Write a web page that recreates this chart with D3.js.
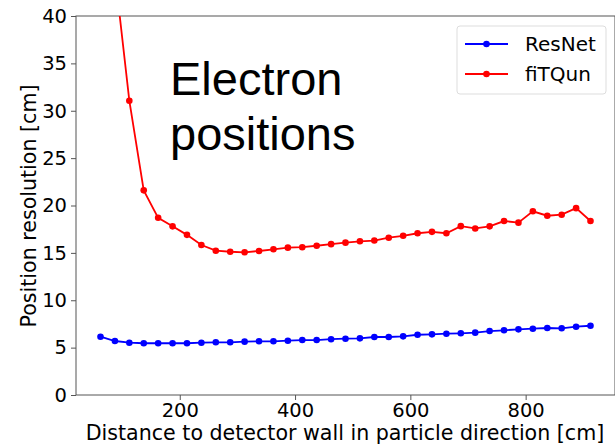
<!DOCTYPE html>
<html>
<head>
<meta charset="utf-8">
<script src="https://cdn.jsdelivr.net/npm/d3@7"></script>
<style>
  body { margin: 0; background: #fff; }
  text { font-family: "DejaVu Sans", sans-serif; fill: #000; }
</style>
</head>
<body>
<svg id="chart" width="615" height="446"></svg>
<script>
// distance bins [cm]
var distances = d3.range(35).map(function(i) { return 62.5 + 25 * i; });

// position resolution [cm]
var resnet = [6.15, 5.70, 5.52, 5.46, 5.46, 5.46, 5.46, 5.52, 5.56, 5.56,
              5.63, 5.67, 5.67, 5.73, 5.80, 5.80, 5.89, 5.94, 5.98, 6.12,
              6.12, 6.19, 6.36, 6.40, 6.47, 6.51, 6.58, 6.75, 6.83, 6.93,
              7.00, 7.07, 7.04, 7.21, 7.31];
var fitqun = [70.0, 44.5, 31.06, 21.6, 18.7, 17.8, 16.9, 15.83, 15.23, 15.12,
              15.06, 15.2, 15.38, 15.55, 15.6, 15.75, 15.92, 16.08, 16.22, 16.3,
              16.6, 16.8, 17.07, 17.22, 17.07, 17.82, 17.58, 17.8, 18.36, 18.19,
              19.39, 18.92, 19.03, 19.72, 18.36];

var xTicks = [200, 400, 600, 800];
var yTicks = [0, 5, 10, 15, 20, 25, 30, 35, 40];

var series = [
  {name: 'ResNet', color: 'blue', values: resnet},
  {name: 'fiTQun', color: 'red', values: fitqun}
];

function drawChart() {
  var svg = d3.select('#chart');
  var pLeft = 76, pRight = 615, pTop = 16, pBottom = 395;

  var x = d3.scaleLinear().domain([20, 955]).range([pLeft, pRight]);
  var y = d3.scaleLinear().domain([0, 40]).range([pBottom, pTop]);

  svg.append('clipPath').attr('id', 'plot-clip')
    .append('rect')
    .attr('x', pLeft).attr('y', pTop)
    .attr('width', pRight - pLeft).attr('height', pBottom - pTop);

  //Axes
  var xAxis = svg.append('g')
    .attr('transform', 'translate(0,' + pBottom + ')')
    .call(d3.axisBottom(x).tickValues(xTicks).tickSize(5).tickPadding(3));
  var yAxis = svg.append('g')
    .attr('transform', 'translate(' + pLeft + ',0)')
    .call(d3.axisLeft(y).tickValues(yTicks).tickSize(5).tickPadding(4));

  [xAxis, yAxis].forEach(function(g) {
    g.select('.domain').remove();
    g.selectAll('.tick line').attr('stroke', '#555').attr('stroke-width', 1);
    g.selectAll('.tick text')
      .style('font-family', '"DejaVu Sans", sans-serif')
      .style('font-size', '19.5px').attr('fill', '#000');
  });

  //Spines
  svg.append('rect')
    .attr('x', pLeft).attr('y', pTop)
    .attr('width', pRight - pLeft).attr('height', pBottom - pTop)
    .attr('fill', 'none').attr('stroke', '#555').attr('stroke-width', 1);

  //Lines and markers
  var line = d3.line()
    .x(function(d, i) { return x(distances[i]); })
    .y(function(d) { return y(d); });

  var plot = svg.append('g').attr('clip-path', 'url(#plot-clip)');
  series.forEach(function(s) {
    plot.append('path')
      .datum(s.values)
      .attr('d', line)
      .attr('fill', 'none')
      .attr('stroke', s.color)
      .attr('stroke-width', 1.8);
    plot.selectAll(null)
      .data(s.values)
      .enter().append('circle')
      .attr('cx', function(d, i) { return x(distances[i]); })
      .attr('cy', function(d) { return y(d); })
      .attr('r', 3.3)
      .attr('fill', s.color);
  });

  //Axis labels
  svg.append('text')
    .attr('x', 345).attr('y', 440)
    .attr('text-anchor', 'middle')
    .style('font-size', '20.6px')
    .text('Distance to detector wall in particle direction [cm]');

  svg.append('text')
    .attr('transform', 'translate(36,206) rotate(-90)')
    .attr('text-anchor', 'middle')
    .style('font-size', '20.6px')
    .text('Position resolution [cm]');

  //Annotation
  var note = svg.append('text')
    .style('font-family', '"Liberation Sans", Arial, sans-serif')
    .style('font-size', '47px');
  note.append('tspan').attr('x', 170).attr('y', 95).text('Electron');
  note.append('tspan').attr('x', 170).attr('y', 150).text('positions');

  //Legend
  var legend = svg.append('g');
  legend.append('rect')
    .attr('x', 457).attr('y', 26)
    .attr('width', 149).attr('height', 68)
    .attr('rx', 3)
    .attr('fill', '#fff').attr('stroke', '#ddd');
  series.forEach(function(s, i) {
    var ly = 44 + i * 30;
    legend.append('line')
      .attr('x1', 465).attr('x2', 508)
      .attr('y1', ly).attr('y2', ly)
      .attr('stroke', s.color).attr('stroke-width', 1.8);
    legend.append('circle')
      .attr('cx', 486.5).attr('cy', ly).attr('r', 3.3)
      .attr('fill', s.color);
    legend.append('text')
      .attr('x', 525).attr('y', ly + 7)
      .style('font-size', '20px')
      .text(s.name);
  });
}

drawChart();
</script>
</body>
</html>
